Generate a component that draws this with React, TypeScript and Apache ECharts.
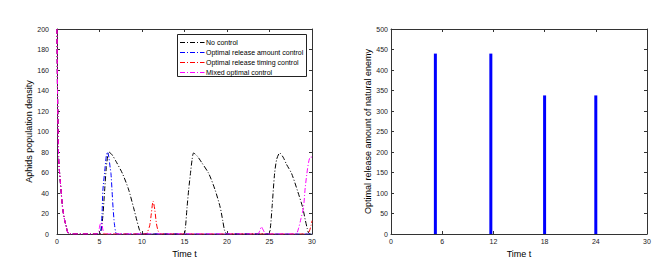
import React, { useEffect, useRef } from "react";
import * as echarts from "echarts";

// ---- Left panel data: aphid population density vs time ----
const noControlT = [0, 0.03, 0.06, 0.1, 0.19, 0.3, 0.39, 0.5, 0.59, 0.7, 0.86, 1.0, 1.1, 1.2, 1.35, 1.5,
  5.0, 5.2, 5.4, 5.6, 5.8, 6.0, 6.1, 6.5, 7.0, 7.7, 8.4, 9.0, 9.4, 9.7, 9.9, 10.0,
  14.9, 15.1, 15.3, 15.5, 15.7, 15.9, 16.07, 16.5, 17.0, 17.85, 18.6, 19.2, 19.5, 19.7, 19.9, 20.0,
  24.9, 25.1, 25.3, 25.6, 25.85, 26.2, 26.6, 27.0, 27.6, 28.3, 28.9, 29.2, 29.45, 29.6, 29.8, 30];
const noControlY = [200, 170, 140, 115, 74, 60, 51, 40, 31, 23, 15, 10, 7, 3, 0.5, 0,
  0, 4, 18, 42, 65, 78, 80, 77, 70, 59, 44, 26, 13, 4, 0.5, 0,
  0, 6, 26, 44, 59, 73, 79, 76, 70, 59, 43, 26, 13, 4, 0.5, 0,
  0, 6, 26, 59, 73, 79, 75, 68, 59, 42, 26, 14, 5, 1, 0, 0];

const amountT = [0, 0.03, 0.06, 0.1, 0.19, 0.3, 0.39, 0.5, 0.59, 0.7, 0.86, 1.0, 1.1, 1.2, 1.35, 1.5,
  5.0, 5.15, 5.3, 5.4, 5.6, 5.8, 5.95, 6.1, 6.25, 6.35, 6.47, 6.6, 6.75, 6.9, 7.0, 30];
const amountY = [200, 170, 140, 115, 74, 60, 51, 40, 31, 23, 15, 10, 7, 3, 0.5, 0,
  0, 3, 20, 43, 60, 76, 80, 75, 65, 59, 43, 25, 10, 2, 0, 0];

const timingT = [0, 0.03, 0.06, 0.1, 0.19, 0.3, 0.39, 0.5, 0.59, 0.7, 0.86, 1.0, 1.1, 1.2, 1.35, 1.5,
  10.5, 10.6, 10.9, 11.1, 11.3, 11.5, 11.7, 11.9, 12.1, 12.3, 29.4, 29.7, 29.9, 30];
const timingY = [200, 170, 140, 115, 74, 60, 51, 40, 31, 23, 15, 10, 7, 3, 0.5, 0,
  0, 1, 8, 20, 32, 24, 10, 3, 0.5, 0, 0, 3, 9, 13];

const mixedT = [0, 0.03, 0.06, 0.1, 0.19, 0.3, 0.39, 0.5, 0.59, 0.7, 0.86, 1.0, 1.1, 1.2, 1.35, 1.5,
  4.7, 4.9, 5.1, 5.25, 5.4, 5.6, 5.8, 23.6, 23.85, 24.05, 24.25, 24.5, 24.7,
  28.1, 28.4, 28.7, 29.0, 29.2, 29.4, 29.6, 29.8, 30];
const mixedY = [200, 170, 140, 115, 74, 60, 51, 40, 31, 23, 15, 10, 7, 3, 0.5, 0,
  0, 3, 10, 11, 4, 0.5, 0, 0, 3, 7, 4, 0.5, 0,
  0, 5, 15, 26, 45, 59, 70, 75, 75];

const seriesNames = [
  "No control",
  "Optimal release amount control",
  "Optimal release timing control",
  "Mixed optimal control",
];
const seriesColors = ["#000000", "#0000ff", "#ff0000", "#ff00ff"];

const leftXTicks = { min: 0, max: 30, interval: 5 };
const leftYTicks = { min: 0, max: 200, interval: 20 };

// ---- Right panel data: optimal release amount ----
const releaseTimes = [5.2, 11.7, 18, 24];
const releaseAmounts = [440, 440, 338, 338];
const rightXTicks = { min: 0, max: 30, interval: 6 };
const rightYTicks = { min: 0, max: 500, interval: 50 };

const FONT = "Liberation Sans, Arial, sans-serif";
const AXIS_COLOR = "#333333";
const DASH = [5, 2, 1, 2];

function zip(t: number[], y: number[]) {
  return t.map((v, i) => [v, y[i]]);
}

export default function App() {
  const ref = useRef<HTMLDivElement>(null);
  useEffect(() => {
    if (!ref.current) return;
    const chart = echarts.init(ref.current, undefined, { renderer: "svg" });

    const gridL = { left: 57, top: 29, width: 255, height: 205 };
    const gridR = { left: 391, top: 29, width: 256, height: 205 };

    const baseAxis = (extra: any) => ({
      type: "value",
      axisLine: { show: true, onZero: false, lineStyle: { color: AXIS_COLOR, width: 1 } },
      axisTick: { show: true, inside: true, length: 3, lineStyle: { color: AXIS_COLOR } },
      splitLine: { show: false },
      axisLabel: { color: "#222", fontSize: 7, fontFamily: FONT },
      ...extra,
    });

    const xName = {
      name: "Time t",
      nameLocation: "middle",
      nameGap: 14,
      nameTextStyle: { color: "#000", fontSize: 9, fontFamily: FONT },
    };

    const lineData = [
      zip(noControlT, noControlY),
      zip(amountT, amountY),
      zip(timingT, timingY),
      zip(mixedT, mixedY),
    ];

    const legendX = 177.5;
    const legendY = 34.5;
    const rowGap = 10;
    const legendGraphics: any[] = [
      {
        type: "rect",
        shape: { x: legendX, y: legendY, width: 129, height: 42 },
        style: { fill: "#fff", stroke: "#222", lineWidth: 1 },
        z: 100,
      },
    ];
    seriesNames.forEach((name, i) => {
      const cy = Math.round(legendY + 7 + i * rowGap) + 0.5;
      legendGraphics.push({
        type: "line",
        shape: { x1: legendX + 2.5, y1: cy, x2: legendX + 27, y2: cy },
        style: { stroke: seriesColors[i], lineWidth: 1, lineDash: DASH },
        z: 101,
      });
      legendGraphics.push({
        type: "text",
        x: legendX + 28.5,
        y: cy,
        style: {
          text: name,
          fill: "#000",
          fontSize: 7,
          fontFamily: FONT,
          verticalAlign: "middle",
          align: "left",
        },
        z: 101,
      });
    });

    chart.setOption({
      animation: false,
      backgroundColor: "#fff",
      grid: [
        { ...gridL, containLabel: false },
        { ...gridR, containLabel: false },
      ],
      xAxis: [
        baseAxis({ gridIndex: 0, position: "bottom", ...leftXTicks, axisLabel: { color: "#222", fontSize: 7, fontFamily: FONT, margin: 4 }, ...xName }),
        baseAxis({ gridIndex: 0, position: "top", ...leftXTicks, axisLabel: { show: false } }),
        baseAxis({ gridIndex: 1, position: "bottom", ...rightXTicks, axisLabel: { color: "#222", fontSize: 7, fontFamily: FONT, margin: 4 }, ...xName }),
        baseAxis({ gridIndex: 1, position: "top", ...rightXTicks, axisLabel: { show: false } }),
      ],
      yAxis: [
        baseAxis({
          gridIndex: 0, position: "left", ...leftYTicks,
          axisLabel: { color: "#222", fontSize: 7, fontFamily: FONT, margin: 8 },
          name: "Aphids population density", nameLocation: "middle", nameGap: 21,
          nameTextStyle: { color: "#000", fontSize: 9, fontFamily: FONT },
        }),
        baseAxis({ gridIndex: 0, position: "right", ...leftYTicks, axisLabel: { show: false } }),
        baseAxis({
          gridIndex: 1, position: "left", ...rightYTicks,
          axisLabel: { color: "#222", fontSize: 7, fontFamily: FONT, margin: 3 },
          name: "Optimal release amount of natural enemy", nameLocation: "middle", nameGap: 19,
          nameTextStyle: { color: "#000", fontSize: 9, fontFamily: FONT },
        }),
        baseAxis({ gridIndex: 1, position: "right", ...rightYTicks, axisLabel: { show: false } }),
      ],
      series: [
        ...lineData.map((d, i) => ({
          type: "line",
          name: seriesNames[i],
          xAxisIndex: 0,
          yAxisIndex: 0,
          data: d,
          showSymbol: false,
          symbol: "none",
          smooth: 0.25,
          clip: true,
          lineStyle: { color: seriesColors[i], width: 1, type: DASH },
          z: 2 + i,
        })),
        {
          type: "bar",
          xAxisIndex: 2,
          yAxisIndex: 2,
          data: zip(releaseTimes, releaseAmounts),
          barWidth: 3,
          itemStyle: { color: "#0000ff" },
        },
      ],
      graphic: legendGraphics,
    });
    return () => chart.dispose();
  }, []);

  return (
    <div
      ref={ref}
      style={{ position: "fixed", left: 0, top: 0, width: 667, height: 265, background: "#fff" }}
    />
  );
}
